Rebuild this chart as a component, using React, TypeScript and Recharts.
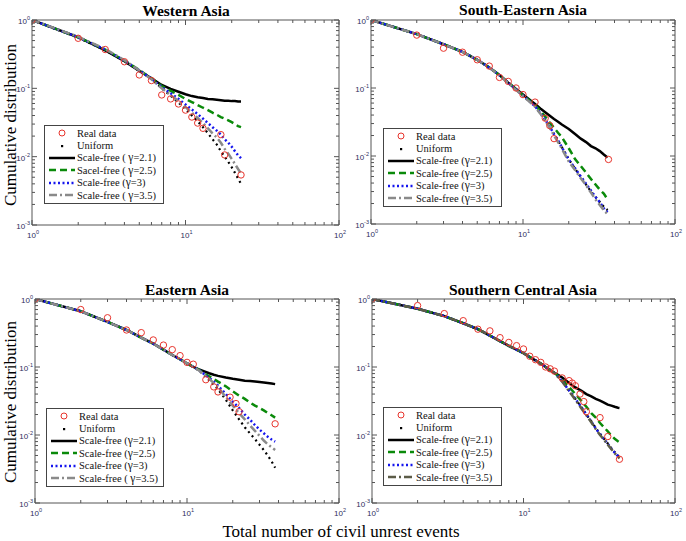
import { LineChart, Line, XAxis, YAxis } from "recharts";

type Pair = [number, number];

const xDecades = [1, 10, 100];
const yDecades = [0.001, 0.01, 0.1, 1];
const subSteps = [1, 2, 3, 4, 5, 6, 7, 8, 9];

// Western Asia
const waX = [1, 2, 3, 4, 5, 6, 7, 8, 9, 10, 11, 12, 13, 14, 15, 16, 17, 18, 19, 20, 21, 22, 23];
const waReal: Pair[] = [[1, 1], [2, 0.54], [3, 0.37], [4, 0.245], [5, 0.157], [6, 0.13], [7, 0.08], [8, 0.07], [9, 0.059], [10, 0.048], [11, 0.038], [12, 0.031], [13, 0.026], [17, 0.021], [18, 0.0106], [23, 0.0054]];
const waUniform = [1, 0.55, 0.36, 0.25, 0.18, 0.138, 0.1, 0.078, 0.062, 0.05, 0.04, 0.033, 0.027, 0.022, 0.018, 0.015, 0.012, 0.01, 0.0084, 0.007, 0.0058, 0.0048, 0.004];
const waSf21 = [1, 0.56, 0.36, 0.25, 0.18, 0.14, 0.112, 0.098, 0.089, 0.082, 0.077, 0.074, 0.072, 0.07, 0.069, 0.068, 0.067, 0.066, 0.066, 0.065, 0.065, 0.064, 0.064];
const waSf25 = [1, 0.56, 0.37, 0.255, 0.185, 0.14, 0.108, 0.092, 0.08, 0.07, 0.063, 0.057, 0.052, 0.048, 0.044, 0.041, 0.038, 0.036, 0.034, 0.032, 0.03, 0.028, 0.027];
const waSf3 = [1, 0.56, 0.37, 0.255, 0.183, 0.138, 0.104, 0.085, 0.07, 0.058, 0.049, 0.042, 0.036, 0.031, 0.027, 0.024, 0.021, 0.018, 0.016, 0.014, 0.012, 0.0105, 0.0095];
const waSf35 = [1, 0.57, 0.375, 0.258, 0.183, 0.136, 0.1, 0.08, 0.065, 0.053, 0.044, 0.037, 0.031, 0.026, 0.022, 0.019, 0.016, 0.013, 0.011, 0.0093, 0.0078, 0.0066, 0.0057];

// South-Eastern Asia
const seX = [1, 2, 3, 4, 5, 6, 7, 8, 9, 10, 11, 12, 13, 14, 15, 16, 17, 18, 20, 22, 24, 26, 28, 30, 32, 34, 36];
const seReal: Pair[] = [[1, 1], [2, 0.6], [3, 0.385], [4, 0.336], [5, 0.26], [6, 0.21], [7, 0.143], [8, 0.125], [9, 0.1], [10, 0.08], [12, 0.062], [14, 0.036], [15, 0.028], [16, 0.018], [36.5, 0.0089]];
const seUniform = [1, 0.62, 0.44, 0.34, 0.26, 0.2, 0.154, 0.119, 0.095, 0.077, 0.064, 0.054, 0.043, 0.034, 0.027, 0.021, 0.017, 0.0135, 0.009, 0.0065, 0.0049, 0.0038, 0.003, 0.0025, 0.0021, 0.0018, 0.0016];
const seSf21 = [1, 0.62, 0.44, 0.34, 0.26, 0.2, 0.155, 0.12, 0.097, 0.08, 0.068, 0.058, 0.05, 0.044, 0.039, 0.035, 0.032, 0.029, 0.025, 0.021, 0.018, 0.016, 0.014, 0.013, 0.0118, 0.0105, 0.0095];
const seSf25 = [1, 0.62, 0.44, 0.34, 0.26, 0.2, 0.155, 0.12, 0.096, 0.078, 0.066, 0.056, 0.046, 0.038, 0.031, 0.026, 0.022, 0.019, 0.013, 0.009, 0.0071, 0.0057, 0.0046, 0.0038, 0.0032, 0.0028, 0.0023];
const seSf3 = [1, 0.62, 0.44, 0.34, 0.26, 0.2, 0.154, 0.119, 0.095, 0.077, 0.064, 0.054, 0.043, 0.034, 0.027, 0.021, 0.017, 0.0135, 0.0088, 0.0066, 0.005, 0.0039, 0.0031, 0.0025, 0.0021, 0.0017, 0.0015];
const seSf35 = [1, 0.62, 0.44, 0.34, 0.26, 0.2, 0.153, 0.118, 0.094, 0.076, 0.063, 0.053, 0.042, 0.033, 0.026, 0.02, 0.016, 0.0128, 0.0083, 0.0062, 0.0047, 0.0037, 0.0029, 0.0023, 0.0019, 0.0016, 0.0014];

// Eastern Asia
const eaX = [1, 2, 3, 4, 5, 6, 7, 8, 9, 10, 11, 12, 13, 14, 15, 16, 18, 20, 22, 24, 26, 28, 30, 32, 34, 36, 38];
const eaReal: Pair[] = [[1, 1], [2, 0.7], [3, 0.53], [4, 0.35], [5, 0.32], [6, 0.25], [7, 0.21], [8, 0.18], [9, 0.147], [10, 0.117], [11, 0.11], [13.3, 0.065], [15, 0.051], [16, 0.043], [19.2, 0.036], [21, 0.029], [22, 0.022], [38, 0.0146]];
const eaUniform = [1, 0.66, 0.46, 0.35, 0.27, 0.22, 0.18, 0.15, 0.13, 0.113, 0.1, 0.089, 0.075, 0.064, 0.055, 0.047, 0.033, 0.023, 0.017, 0.013, 0.0105, 0.0087, 0.0072, 0.006, 0.005, 0.0041, 0.0033];
const eaSf21 = [1, 0.66, 0.46, 0.35, 0.27, 0.22, 0.18, 0.15, 0.13, 0.113, 0.1, 0.092, 0.086, 0.081, 0.077, 0.074, 0.07, 0.067, 0.065, 0.063, 0.062, 0.061, 0.06, 0.059, 0.058, 0.057, 0.056];
const eaSf25 = [1, 0.66, 0.46, 0.35, 0.27, 0.22, 0.18, 0.15, 0.13, 0.113, 0.1, 0.091, 0.08, 0.073, 0.067, 0.061, 0.052, 0.044, 0.038, 0.034, 0.03, 0.027, 0.025, 0.023, 0.021, 0.0195, 0.018];
const eaSf3 = [1, 0.66, 0.46, 0.35, 0.27, 0.22, 0.18, 0.15, 0.13, 0.113, 0.1, 0.09, 0.078, 0.069, 0.061, 0.053, 0.04, 0.031, 0.025, 0.02, 0.0167, 0.014, 0.012, 0.0106, 0.0094, 0.0086, 0.008];
const eaSf35 = [1, 0.66, 0.46, 0.35, 0.27, 0.22, 0.18, 0.15, 0.13, 0.113, 0.1, 0.089, 0.077, 0.067, 0.058, 0.051, 0.036, 0.027, 0.021, 0.017, 0.0138, 0.0115, 0.0097, 0.0083, 0.0073, 0.0066, 0.006];

// Southern Central Asia
const scX = [1, 2, 3, 4, 5, 6, 7, 8, 9, 10, 11, 12, 13, 14, 15, 16, 17, 18, 20, 22, 24, 26, 28, 30, 32, 34, 36, 38, 40, 42, 43];
const scReal: Pair[] = [[1, 1], [2, 0.8], [3, 0.61], [4, 0.48], [5, 0.36], [6, 0.34], [7, 0.27], [8, 0.23], [9, 0.206], [10, 0.184], [11, 0.144], [12, 0.128], [13, 0.117], [14, 0.1], [15, 0.094], [16, 0.087], [18, 0.069], [20, 0.063], [21, 0.058], [22, 0.053], [23.6, 0.04], [25, 0.031], [26, 0.022], [32, 0.018], [36, 0.0095], [43, 0.0044]];
const scUniform = [1, 0.72, 0.56, 0.44, 0.36, 0.29, 0.24, 0.205, 0.18, 0.16, 0.14, 0.125, 0.112, 0.1, 0.09, 0.082, 0.071, 0.062, 0.045, 0.034, 0.026, 0.02, 0.016, 0.0126, 0.0104, 0.0088, 0.0075, 0.0064, 0.0056, 0.005, 0.0046];
const scSf21 = [1, 0.72, 0.56, 0.44, 0.36, 0.29, 0.24, 0.205, 0.18, 0.16, 0.14, 0.125, 0.112, 0.1, 0.09, 0.082, 0.076, 0.07, 0.058, 0.05, 0.045, 0.04, 0.037, 0.034, 0.032, 0.03, 0.028, 0.027, 0.026, 0.0252, 0.025];
const scSf25 = [1, 0.72, 0.56, 0.44, 0.36, 0.29, 0.24, 0.205, 0.18, 0.16, 0.14, 0.125, 0.112, 0.1, 0.09, 0.082, 0.073, 0.065, 0.051, 0.04, 0.032, 0.026, 0.021, 0.018, 0.015, 0.013, 0.0113, 0.0098, 0.0088, 0.0081, 0.0078];
const scSf3 = [1, 0.72, 0.56, 0.44, 0.36, 0.29, 0.24, 0.205, 0.18, 0.16, 0.14, 0.125, 0.112, 0.1, 0.09, 0.082, 0.071, 0.062, 0.045, 0.034, 0.026, 0.02, 0.0158, 0.0125, 0.0103, 0.0087, 0.0074, 0.0063, 0.0055, 0.0049, 0.0046];
const scSf35 = [1, 0.72, 0.56, 0.44, 0.36, 0.29, 0.24, 0.205, 0.18, 0.16, 0.14, 0.125, 0.112, 0.1, 0.09, 0.082, 0.07, 0.061, 0.044, 0.033, 0.025, 0.0195, 0.0154, 0.0122, 0.01, 0.0085, 0.0072, 0.0062, 0.0054, 0.0048, 0.0045];

const labelsA = ["Real data", "Uniform", "Scale-free ( γ=2.1)", "Sacel-free ( γ=2.5)", "Scale-free (γ=3)", "Scale-free ( γ=3.5)"];
const labelsB = ["Real data", "Uniform", "Scale-free (γ=2.1)", "Scale-free (γ=2.5)", "Scale-free (γ=3)", "Scale-free (γ=3.5)"];
const labelsC = ["Real data", "Uniform", "Scale-free (γ=2.1)", "Scale-free (γ=2.5)", "Scale-free (γ=3)", "Scale-free ( γ=3.5)"];

const xTicks = xDecades.flatMap((d, i) => (i < xDecades.length - 1 ? subSteps.map((s) => s * d) : [d]));
const yTicks = yDecades.flatMap((d, i) => (i < yDecades.length - 1 ? subSteps.map((s) => +(s * d).toPrecision(3)) : [d]));

const TICK = "#2e2e5c";
const AXIS = "#555";
const SERIF = '"Liberation Serif", "Times New Roman", serif';
const CHART_W = 352; // a bit wider than the panel so the 10^2 label is not clipped

const isDecade = (v: number) => {
  const l = Math.log10(v);
  return Math.abs(l - Math.round(l)) < 1e-6;
};
const expOf = (v: number) => Math.round(Math.log10(v));

const toPts = (xs: number[], ys: number[]) => xs.map((x, i) => ({ x, y: ys[i] }));
const pairPts = (ps: Pair[]) => ps.map(([x, y]) => ({ x, y }));

const Pow = ({ x, y, v, anchor }: any) => (
  <text x={x} y={y} textAnchor={anchor} fontSize={8} fill={TICK} fontFamily="Arial, sans-serif">
    10
    <tspan dy={-4} fontSize={5.5}>{expOf(v)}</tspan>
  </text>
);

const BottomTick = ({ x, y, payload }: any) => {
  const major = isDecade(payload.value);
  return (
    <g>
      <line x1={x} x2={x} y1={y} y2={y - (major ? 5 : 3)} stroke={AXIS} />
      {major && <Pow x={x + 1} y={y + 13} v={payload.value} anchor="middle" />}
    </g>
  );
};
const TopTick = ({ x, y, payload }: any) => {
  const major = isDecade(payload.value);
  return <line x1={x} x2={x} y1={y} y2={y + (major ? 5 : 3)} stroke={AXIS} />;
};
const LeftTick = ({ x, y, payload }: any) => {
  const major = isDecade(payload.value);
  return (
    <g>
      <line x1={x} x2={x + (major ? 5 : 3)} y1={y} y2={y} stroke={AXIS} />
      {major && <Pow x={x - 2} y={y + 4} v={payload.value} anchor="end" />}
    </g>
  );
};
const RightTick = ({ x, y, payload }: any) => {
  const major = isDecade(payload.value);
  return <line x1={x} x2={x - (major ? 5 : 3)} y1={y} y2={y} stroke={AXIS} />;
};

type Style = { color: string; dash?: string; width: number; kind: "circle" | "dot" | "line" };

const styleList = (gray: string): Style[] => [
  { color: "#e8342c", kind: "circle", width: 1 },
  { color: "#000", kind: "dot", dash: "2 3.5", width: 2.2 },
  { color: "#000", kind: "line", width: 2.5 },
  { color: "#0a8a0a", kind: "line", dash: "7 4", width: 2.5 },
  { color: "#1515ee", kind: "line", dash: "2 2.5", width: 2.5 },
  { color: gray, kind: "line", dash: "8 3 2 3", width: 2.5 },
];

const LegendBox = ({ left, top, width, labels, styles }: any) => (
  <div
    style={{
      position: "absolute",
      left,
      top,
      width,
      border: "1px solid #444",
      background: "#fff",
      padding: "1px 0 2px",
      fontFamily: SERIF,
      fontSize: 10.5,
      lineHeight: "11px",
      color: "#111",
    }}
  >
    {labels.map((label: string, i: number) => {
      const st: Style = styles[i];
      const [pre, post] = label.split("γ");
      return (
        <div key={label} style={{ display: "flex", alignItems: "center", height: 12.4, whiteSpace: "nowrap" }}>
          <svg width={32} height={10} style={{ flex: "none" }}>
            {st.kind === "circle" && <circle cx={17} cy={5} r={3} fill="none" stroke={st.color} strokeWidth={1} />}
            {st.kind === "dot" && <rect x={16} y={4} width={2.2} height={2.2} fill="#000" />}
            {st.kind === "line" && (
              <line x1={4} x2={30} y1={5} y2={5} stroke={st.color} strokeWidth={st.width} strokeDasharray={st.dash} />
            )}
          </svg>
          <span>
            {pre}
            {post !== undefined && (
              <>
                <span style={{ fontSize: 11.5, lineHeight: "10px" }}>γ</span>
                {post}
              </>
            )}
          </span>
        </div>
      );
    })}
  </div>
);

type PanelProps = {
  left: number;
  top: number;
  height: number;
  margin: { top: number; left: number; right: number; bottom: number };
  xs: number[];
  real: Pair[];
  uniform: number[];
  sf21: number[];
  sf25: number[];
  sf3: number[];
  sf35: number[];
  gray: string;
};

function Panel(p: PanelProps) {
  const st = styleList(p.gray);
  const series = [p.uniform, p.sf21, p.sf25, p.sf3, p.sf35];
  // every axis takes 1px of room, so the margins are trimmed by 1
  const m = {
    top: p.margin.top - 1,
    left: p.margin.left - 1,
    right: p.margin.right - 1 + (CHART_W - 343),
    bottom: p.margin.bottom - 1,
  };
  return (
    <div style={{ position: "absolute", left: p.left, top: p.top }}>
      <LineChart width={CHART_W} height={p.height} margin={m}>
        <XAxis xAxisId="b" dataKey="x" type="number" scale="log" domain={[1, 100]} allowDataOverflow ticks={xTicks}
          interval={0} height={1} tickSize={0} tickMargin={0} tick={<BottomTick />} axisLine={{ stroke: AXIS }} />
        <XAxis xAxisId="t" orientation="top" dataKey="x" type="number" scale="log" domain={[1, 100]} allowDataOverflow
          ticks={xTicks} interval={0} height={1} tickSize={0} tickMargin={0} tick={<TopTick />} axisLine={{ stroke: AXIS }} />
        <YAxis yAxisId="l" type="number" scale="log" domain={[0.001, 1]} allowDataOverflow ticks={yTicks} interval={0}
          width={1} tickSize={0} tickMargin={0} tick={<LeftTick />} axisLine={{ stroke: AXIS }} />
        <YAxis yAxisId="r" orientation="right" type="number" scale="log" domain={[0.001, 1]} allowDataOverflow
          ticks={yTicks} interval={0} width={1} tickSize={0} tickMargin={0} tick={<RightTick />} axisLine={{ stroke: AXIS }} />
        <Line xAxisId="b" yAxisId="l" data={pairPts(p.real)} dataKey="y" stroke="none"
          dot={{ r: 3.2, stroke: st[0].color, strokeWidth: 1, fill: "none" }} isAnimationActive={false} />
        {series.map((ys, i) => (
          <Line key={i} xAxisId="b" yAxisId="l" data={toPts(p.xs, ys)} dataKey="y" type="linear"
            stroke={st[i + 1].color} strokeWidth={st[i + 1].width} strokeDasharray={st[i + 1].dash}
            dot={false} isAnimationActive={false} />
        ))}
      </LineChart>
    </div>
  );
}

export default function App() {
  return (
    <div style={{ position: "absolute", left: 0, top: 0, width: 686, height: 541, background: "#fff", overflow: "hidden" }}>
      <Panel left={0} top={0} height={270} margin={{ top: 20, left: 32, right: 4, bottom: 45 }}
        xs={waX} real={waReal} uniform={waUniform} sf21={waSf21} sf25={waSf25} sf3={waSf3} sf35={waSf35} gray="#8a8a8a" />
      <Panel left={343} top={0} height={270} margin={{ top: 20, left: 28, right: 11, bottom: 46 }}
        xs={seX} real={seReal} uniform={seUniform} sf21={seSf21} sf25={seSf25} sf3={seSf3} sf35={seSf35} gray="#8a8a8a" />
      <Panel left={0} top={270} height={271} margin={{ top: 29, left: 35, right: 4, bottom: 38 }}
        xs={eaX} real={eaReal} uniform={eaUniform} sf21={eaSf21} sf25={eaSf25} sf3={eaSf3} sf35={eaSf35} gray="#8a8a8a" />
      <Panel left={343} top={270} height={271} margin={{ top: 29, left: 29, right: 11, bottom: 38 }}
        xs={scX} real={scReal} uniform={scUniform} sf21={scSf21} sf25={scSf25} sf3={scSf3} sf35={scSf35} gray="#5c5c48" />

      <LegendBox left={44} top={125} width={118} labels={labelsA} styles={styleList("#8a8a8a")} />
      <LegendBox left={383} top={128} width={117} labels={labelsB} styles={styleList("#8a8a8a")} />
      <LegendBox left={46} top={408} width={116} labels={labelsC} styles={styleList("#8a8a8a")} />
      <LegendBox left={383} top={407} width={117} labels={labelsB} styles={styleList("#5c5c48")} />

      <svg width={686} height={541} style={{ position: "absolute", left: 0, top: 0, pointerEvents: "none" }}>
        <g fontFamily={SERIF} fontWeight="bold" fontSize={15.5} fill="#000" textAnchor="middle">
          <text x={186} y={16}>Western Asia</text>
          <text x={523} y={15}>South-Eastern Asia</text>
          <text x={187} y={295}>Eastern Asia</text>
          <text x={523} y={295}>Southern Central Asia</text>
        </g>
        <g fontFamily={SERIF} fontSize={17} fill="#000" textAnchor="middle">
          <text transform="translate(16,125) rotate(-90)">Cumulative distribution</text>
          <text transform="translate(16,402) rotate(-90)">Cumulative distribution</text>
          <text x={341} y={537}>Total number of civil unrest events</text>
        </g>
      </svg>
    </div>
  );
}
